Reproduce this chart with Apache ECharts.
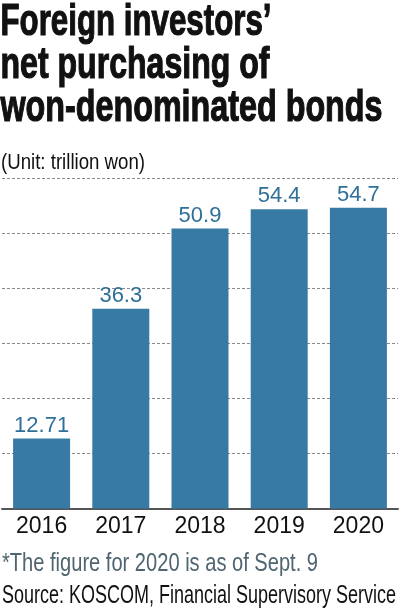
<!DOCTYPE html>
<html><head><meta charset="utf-8">
<script src="https://cdn.jsdelivr.net/npm/echarts@6/dist/echarts.min.js"></script>
<style>html,body{margin:0;padding:0;background:#fff}#c{width:400px;height:614px}</style>
</head><body><div id="c"></div>
<script>
const categories = ['2016', '2017', '2018', '2019', '2020'];
const netPurchase = [12.71, 36.3, 50.9, 54.4, 54.7];
const valueLabels = ['12.71', '36.3', '50.9', '54.4', '54.7'];
const titleLines = ['Foreign investors\u2019', 'net purchasing of', 'won-denominated bonds'];
const unitText = '(Unit: trillion won)';
const noteText = '*The figure for 2020 is as of Sept. 9';
const sourceText = 'Source: KOSCOM, Financial Supervisory Service';

const FONT = '"Liberation Sans", Arial, Helvetica, sans-serif';
const ctx = document.createElement('canvas').getContext('2d');
function condensed(text, x, y, size, weight, color, targetWidth, strokeW) {
  const font = weight + ' ' + size + 'px ' + FONT;
  ctx.font = font;
  const w = ctx.measureText(text).width;
  const style = {text: text, font: font, fill: color, verticalAlign: 'top', align: 'left'};
  if (strokeW) { style.stroke = color; style.lineWidth = strokeW; }
  return {type: 'text', x: x, y: y, scaleX: targetWidth / w, scaleY: 1, originX: 0, originY: 0, style: style};
}
const titleWidths = [271, 269, 382];
const graphics = [];
titleLines.forEach((t, i) => graphics.push(condensed(t, 0.5, 0 + i * 43, 45, 'bold', '#111', titleWidths[i], 1.2)));
graphics.push(condensed(unitText, 1, 152, 22, 'normal', '#111', 144));
graphics.push(condensed(noteText, 2, 552, 25, 'normal', '#4f6570', 316));
graphics.push(condensed(sourceText, 2, 584, 25, 'normal', '#111', 394));

const chart = echarts.init(document.getElementById('c'));
chart.setOption({
  animation: false,
  graphic: graphics,
  grid: {left: 2, right: 2, top: 178.5, bottom: 105.5, containLabel: false},
  xAxis: {
    type: 'category', data: categories,
    axisLine: {lineStyle: {color: '#555', width: 2}},
    axisTick: {show: false},
    axisLabel: {fontFamily: FONT, fontSize: 23, color: '#111', margin: 7}
  },
  yAxis: {
    type: 'value', min: 0, max: 60, interval: 10,
    axisLabel: {show: false}, axisLine: {show: false}, axisTick: {show: false},
    splitLine: {lineStyle: {color: '#8a8a8a', type: [3, 2], width: 1}}
  },
  series: [{
    type: 'bar', data: netPurchase, barWidth: 57,
    itemStyle: {color: '#377ba5'},
    label: {show: true, position: 'top', distance: 2,
      formatter: p => valueLabels[p.dataIndex],
      fontFamily: FONT, fontSize: 22, color: '#2f6f98'}
  }]
});
</script></body></html>
